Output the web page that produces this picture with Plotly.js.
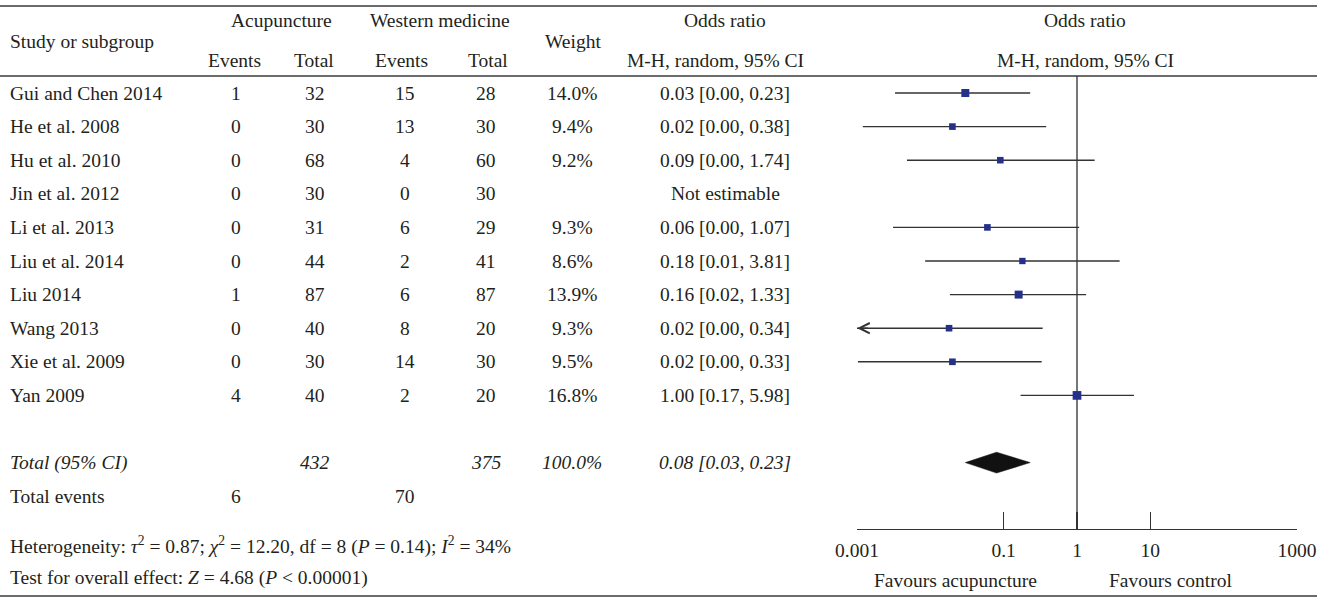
<!DOCTYPE html>
<html>
<head>
<meta charset="utf-8">
<script src="https://cdn.plot.ly/plotly-3.0.1.min.js"></script>
<style>html,body{margin:0;padding:0;background:#fff;}#chart{width:1332px;height:597px;}</style>
</head>
<body>
<div id="chart"></div>
<script>
// ---------------- data ----------------
const studies = ["Gui and Chen 2014","He et al. 2008","Hu et al. 2010","Jin et al. 2012","Li et al. 2013","Liu et al. 2014","Liu 2014","Wang 2013","Xie et al. 2009","Yan 2009"];
const acuEvents = [1,0,0,0,0,0,1,0,0,4];
const acuTotal  = [32,30,68,30,31,44,87,40,30,40];
const wmEvents  = [15,13,4,0,6,2,6,8,14,2];
const wmTotal   = [28,30,60,30,29,41,87,20,30,20];
const weightTxt = ["14.0%","9.4%","9.2%","","9.3%","8.6%","13.9%","9.3%","9.5%","16.8%"];
const weights   = [14.0,9.4,9.2,null,9.3,8.6,13.9,9.3,9.5,16.8];
const orTxt     = ["0.03 [0.00, 0.23]","0.02 [0.00, 0.38]","0.09 [0.00, 1.74]","Not estimable","0.06 [0.00, 1.07]","0.18 [0.01, 3.81]","0.16 [0.02, 1.33]","0.02 [0.00, 0.34]","0.02 [0.00, 0.33]","1.00 [0.17, 5.98]"];
const orVal     = [0.03,0.02,0.09,null,0.06,0.18,0.16,0.018,0.02,1.00];
const ciLow     = [0.0033,0.0012,0.0048,null,0.0031,0.0085,0.0185,0.0009,0.00103,0.17];
const ciHigh    = [0.23,0.38,1.74,null,1.07,3.81,1.33,0.34,0.33,5.98];
const totalRow  = {label:"Total (95% CI)", acuTotal:432, wmTotal:375, weight:"100.0%", orTxt:"0.08 [0.03, 0.23]"};
const totalOR   = [0.03, 0.08, 0.23]; // low, estimate, high
const totalEvents = [6, 70];
const tickVals  = [0.001, 0.1, 1, 10, 1000];
const tickText  = ["0.001","0.1","1","10","1000"];

// ---------------- layout helpers ----------------
const W = 1332, H = 597;
const FONT = "Liberation Serif, Times New Roman, serif";
const FS = 19.5;
const TXT = "#231f20";
const ROW0 = 93, PITCH = 33.6;          // pixel of row 0, row pitch
const py = p => (p - ROW0) / PITCH;      // pixel -> row units
const px = p => p / W;                   // pixel -> paper x
const ppy = p => 1 - p / H;              // pixel -> paper y

const colX = {acuE:236, acuT:315, wmE:405, wmT:486, wt:572, or:725};

const ann = [];
function txt(x, y, s, opts) {
  ann.push(Object.assign({
    x: px(x), xref: "paper", y: y, yref: "y", text: s, showarrow: false,
    xanchor: "center", yanchor: "middle",
    font: {family: FONT, size: FS, color: TXT}
  }, opts || {}));
}
// header
txt(8, py(41), "Study or subgroup", {xanchor: "left"});
txt(281, py(20), "Acupuncture");
txt(440, py(20), "Western medicine");
txt(234, py(60), "Events");
txt(314, py(60), "Total");
txt(401, py(60), "Events");
txt(488, py(60), "Total");
txt(573, py(41), "Weight");
txt(725, py(20), "Odds ratio");
txt(715, py(60), "M-H, random, 95% CI");
txt(1085, py(20), "Odds ratio");
txt(1085, py(60), "M-H, random, 95% CI");

// study rows
studies.forEach((s, i) => {
  txt(8, i, s, {xanchor: "left"});
  txt(colX.acuE, i, String(acuEvents[i]));
  txt(colX.acuT, i, String(acuTotal[i]));
  txt(colX.wmE, i, String(wmEvents[i]));
  txt(colX.wmT, i, String(wmTotal[i]));
  if (weightTxt[i]) txt(colX.wt, i, weightTxt[i]);
  txt(colX.or, i, orTxt[i]);
});
const totalIdx = studies.length + 1;
txt(8, totalIdx, "<i>" + totalRow.label + "</i>", {xanchor: "left"});
txt(colX.acuT, totalIdx, "<i>" + totalRow.acuTotal + "</i>");
txt(colX.wmT, totalIdx, "<i>" + totalRow.wmTotal + "</i>");
txt(colX.wt, totalIdx, "<i>" + totalRow.weight + "</i>");
txt(colX.or, totalIdx, "<i>" + totalRow.orTxt + "</i>");
txt(8, totalIdx + 1, "Total events", {xanchor: "left"});
txt(colX.acuE, totalIdx + 1, String(totalEvents[0]));
txt(colX.wmE, totalIdx + 1, String(totalEvents[1]));
txt(8, py(545), "Heterogeneity: <i>τ</i><sup>2</sup> = 0.87; <i>χ</i><sup>2</sup> = 12.20, df = 8 (<i>P</i> = 0.14); <i>I</i><sup>2</sup> = 34%", {xanchor: "left"});
txt(8, py(578), "Test for overall effect: <i>Z</i> = 4.68 (<i>P</i> &lt; 0.00001)", {xanchor: "left"});
txt(955, py(580), "Favours acupuncture");
txt(1171, py(580), "Favours control");

// arrow for truncated CI (Wang 2013)
studies.forEach((s, i) => {
  if (ciLow[i] !== null && ciLow[i] < tickVals[0]) {
    ann.push({x: Math.log10(tickVals[0]) + 0.002, y: i, xref: "x", yref: "y",
      ax: 14, ay: 0, axref: "pixel", ayref: "pixel", showarrow: true, text: " ",
      arrowhead: 5, arrowsize: 1.7, arrowwidth: 1.2, arrowcolor: "#333", standoff: 0});
  }
});

// ---------------- traces ----------------
const ciX = [], ciY = [];
studies.forEach((s, i) => {
  if (orVal[i] === null) return;
  ciX.push(ciLow[i], ciHigh[i], null);
  ciY.push(i, i, null);
});
const lowerRow = py(529);
const traces = [
  {type: "scatter", mode: "lines", x: [1, 1], y: [py(76), lowerRow],
   line: {color: "#555", width: 1.6}, hoverinfo: "skip", cliponaxis: false},
  {type: "scatter", mode: "lines", x: ciX, y: ciY,
   line: {color: "#333", width: 1.4}, hoverinfo: "skip"},
  {type: "scatter", mode: "markers",
   x: orVal.filter(v => v !== null),
   y: orVal.map((v, i) => v === null ? null : i).filter(v => v !== null),
   marker: {symbol: "square", color: "#25308a", opacity: 1,
     size: weights.filter(v => v !== null).map(w => 2 * Math.sqrt(w) + 0.5), line: {width: 0}},
   hoverinfo: "skip"},
  {type: "scatter", mode: "lines", fill: "toself", fillcolor: "#111",
   x: [totalOR[0], totalOR[1], totalOR[2], totalOR[1], totalOR[0]],
   y: [totalIdx, totalIdx - 0.31, totalIdx, totalIdx + 0.31, totalIdx],
   line: {color: "#111", width: 0.5}, hoverinfo: "skip"}
];

// rules
const rule = p => ({type: "line", xref: "paper", yref: "paper", x0: 0, x1: px(1317),
  y0: ppy(p), y1: ppy(p), line: {color: "#3a3a3a", width: 1.6}});

const layout = {
  width: W, height: H,
  margin: {l: 0, r: 0, t: 0, b: 0},
  paper_bgcolor: "#fff", plot_bgcolor: "rgba(0,0,0,0)",
  showlegend: false,
  xaxis: {type: "log", domain: [px(857), px(1297)], range: [-3, 3],
    anchor: "free", position: ppy(529),
    showgrid: false, zeroline: false, showline: true, linecolor: "#333", linewidth: 1.3,
    ticks: "inside", ticklen: 17, tickwidth: 1.3, tickcolor: "#333",
    tickvals: tickVals, ticktext: tickText, ticklabelstandoff: 3,
    tickfont: {family: FONT, size: FS, color: TXT}, fixedrange: true},
  yaxis: {range: [py(H), py(0)], domain: [0, 1], visible: false, fixedrange: true},
  shapes: [rule(6), rule(76), rule(596)],
  annotations: ann
};

Plotly.newPlot("chart", traces, layout, {displayModeBar: false, staticPlot: true});
</script>
</body>
</html>
